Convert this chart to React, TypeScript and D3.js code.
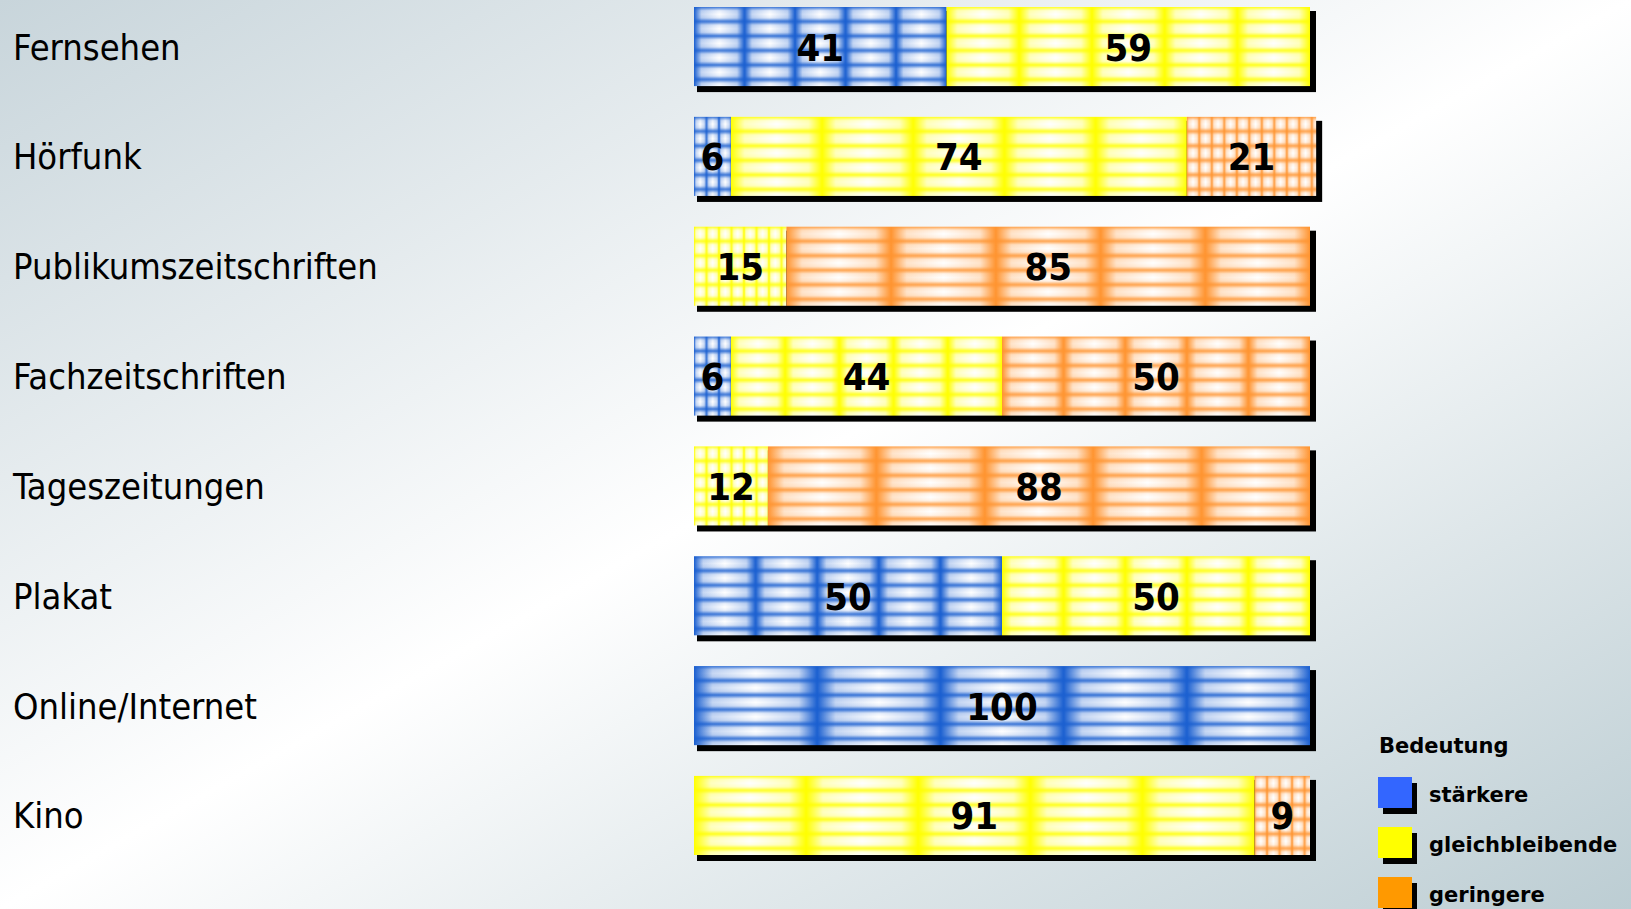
import { useEffect, useRef } from 'react';
import * as d3 from 'd3';

const categories = [
  'Fernsehen',
  'Hörfunk',
  'Publikumszeitschriften',
  'Fachzeitschriften',
  'Tageszeitungen',
  'Plakat',
  'Online/Internet',
  'Kino',
];
const staerkere = [41, 6, 0, 6, 0, 50, 100, 0];
const gleichbleibende = [59, 74, 15, 44, 12, 50, 0, 91];
const geringere = [0, 21, 85, 50, 88, 0, 0, 9];

const seriesKeys = ['stärkere', 'gleichbleibende', 'geringere'];
const barColors = ['#1a5fd0', '#ffff00', '#ff9430'];
const legendColors = ['#3366ff', '#ffff00', '#ff9900'];
const legendTitle = 'Bedeutung';

const WIDTH = 1631;
const HEIGHT = 909;

const labelFont = '"DejaVu Sans Condensed", "DejaVu Sans", sans-serif';

export default function App() {
  const svgRef = useRef<SVGSVGElement>(null);

  useEffect(() => {
    document.body.style.margin = '0';
    if (!svgRef.current) return;

    const svg = d3.select(svgRef.current);
    svg.selectAll('*').remove();
    const defs = svg.append('defs');

    // Background: diagonal grey-white-grey wash
    const bg = defs.append('linearGradient')
      .attr('id', 'bg')
      .attr('x1', 0).attr('y1', 0)
      .attr('x2', 1).attr('y2', 1);
    ([[0, '#c8d5db'], [0.5, '#ffffff'], [1, '#bccdd3']] as [number, string][])
      .forEach(([o, c]) => bg.append('stop').attr('offset', o).attr('stop-color', c));
    svg.append('rect')
      .attr('width', WIDTH)
      .attr('height', HEIGHT)
      .attr('fill', 'url(#bg)');

    // Pillow shading gradients for each series colour
    barColors.forEach((c, i) => {
      const mid = d3.interpolateRgb(c, '#ffffff')(0.75);
      const h = defs.append('linearGradient')
        .attr('id', `h${i}`)
        .attr('x1', 0).attr('y1', 0)
        .attr('x2', 1).attr('y2', 0);
      ([[0, c], [0.15, mid], [0.5, '#ffffff'], [0.85, mid], [1, c]] as [number, string][])
        .forEach(([o, col]) => h.append('stop').attr('offset', o).attr('stop-color', col));

      const v = defs.append('linearGradient')
        .attr('id', `v${i}`)
        .attr('x1', 0).attr('y1', 0)
        .attr('x2', 0).attr('y2', 1);
      ([[0, 0.85], [0.25, 0.1], [0.5, 0], [0.75, 0.1], [1, 0.85]] as [number, number][])
        .forEach(([o, op]) => v.append('stop')
          .attr('offset', o)
          .attr('stop-color', c)
          .attr('stop-opacity', op));
    });

    const table = categories.map((name, i) => ({
      name,
      'stärkere': staerkere[i],
      gleichbleibende: gleichbleibende[i],
      geringere: geringere[i],
    }));
    const stacked = d3.stack<any>().keys(seriesKeys)(table);

    const x = d3.scaleLinear().domain([0, 100]).range([694, 1310]);
    const y = d3.scaleBand()
      .domain(categories)
      .range([7, 855])
      .paddingInner(0.28)
      .paddingOuter(0);
    const bw = y.bandwidth();

    // Category labels
    svg.append('g')
      .selectAll('text')
      .data(categories)
      .join('text')
      .attr('x', 13)
      .attr('y', d => (y(d) as number) + bw / 2 + 13)
      .style('font-family', labelFont)
      .style('font-stretch', 'condensed')
      .style('font-size', '36px')
      .style('fill', '#000')
      .text(d => d);

    // Shadows behind bars
    const totals = categories.map((_, i) => staerkere[i] + gleichbleibende[i] + geringere[i]);
    svg.append('g')
      .selectAll('rect')
      .data(categories)
      .join('rect')
      .attr('x', x(0) + 3)
      .attr('y', d => (y(d) as number) + 4)
      .attr('width', (_, i) => x(totals[i]) - x(0) + 3)
      .attr('height', bw + 2)
      .attr('fill', '#000');

    // Segments with patterned fills
    const segs = svg.append('g');
    const labels = svg.append('g');
    stacked.forEach((series, j) => {
      series.forEach((d, i) => {
        const v = d[1] - d[0];
        if (v <= 0) return;
        const cat = categories[i];
        const x0 = x(d[0]);
        const w = x(d[1]) - x0;
        const top = y(cat) as number;
        const small = v < 25;
        const cellW = small ? 12.5 : Math.max(50, w / 5);
        const cellH = 14.5;
        const pid = `p${i}-${j}`;
        const pat = defs.append('pattern')
          .attr('id', pid)
          .attr('patternUnits', 'userSpaceOnUse')
          .attr('x', x0)
          .attr('y', top)
          .attr('width', cellW)
          .attr('height', cellH);
        pat.append('rect')
          .attr('width', cellW)
          .attr('height', cellH)
          .attr('fill', `url(#h${j})`);
        pat.append('rect')
          .attr('width', cellW)
          .attr('height', cellH)
          .attr('fill', `url(#v${j})`);

        segs.append('rect')
          .attr('x', x0)
          .attr('y', top)
          .attr('width', w)
          .attr('height', bw)
          .attr('fill', `url(#${pid})`);

        labels.append('text')
          .attr('x', x0 + w / 2)
          .attr('y', top + bw / 2 + 14)
          .attr('text-anchor', 'middle')
          .style('font-family', labelFont)
          .style('font-stretch', 'condensed')
          .style('font-weight', '700')
          .style('font-size', '38px')
          .style('fill', '#000')
          .text(`${v}`);
      });
    });

    // Legend
    const legend = svg.append('g').attr('transform', 'translate(1378, 0)');
    legend.append('text')
      .attr('x', 1)
      .attr('y', 753)
      .style('font-family', 'DejaVu Sans, sans-serif')
      .style('font-weight', '700')
      .style('font-size', '21px')
      .style('fill', '#000')
      .text(legendTitle);

    const items = legend.selectAll('g.item')
      .data(seriesKeys)
      .join('g')
      .attr('class', 'item')
      .attr('transform', (_, i) => `translate(0, ${777 + i * 50})`);
    items.append('rect')
      .attr('x', 5)
      .attr('y', 6)
      .attr('width', 34)
      .attr('height', 31)
      .attr('fill', '#000');
    items.append('rect')
      .attr('width', 34)
      .attr('height', 31)
      .attr('fill', (_, i) => legendColors[i]);
    items.append('text')
      .attr('x', 51)
      .attr('y', 25)
      .style('font-family', 'DejaVu Sans, sans-serif')
      .style('font-weight', '700')
      .style('font-size', '21px')
      .style('fill', '#000')
      .text(d => d);
  }, []);

  return (
    <svg
      ref={svgRef}
      width={WIDTH}
      height={HEIGHT}
      style={{ display: 'block' }}
    />
  );
}
